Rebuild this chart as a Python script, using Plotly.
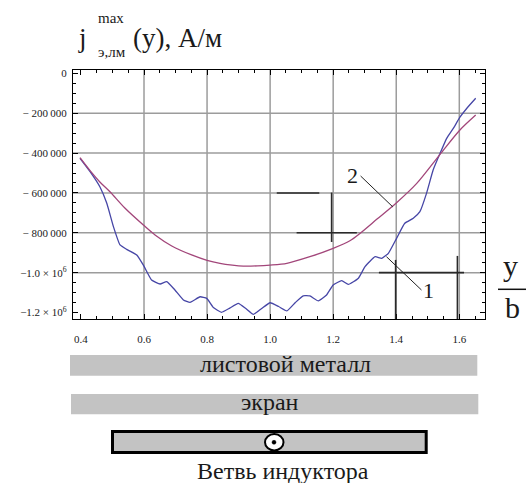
import plotly.graph_objects as go

# ---------------- data ----------------
x_curve1 = [0.397, 0.429, 0.460, 0.482, 0.503, 0.524, 0.545, 0.577, 0.598, 0.624,
            0.651, 0.672, 0.698, 0.725, 0.746, 0.778, 0.799, 0.820, 0.846, 0.872,
            0.899, 0.923, 0.947, 0.973, 1.000, 1.027, 1.053, 1.080, 1.105, 1.126,
            1.153, 1.179, 1.200, 1.227, 1.248, 1.280, 1.301, 1.333, 1.354, 1.375,
            1.401, 1.427, 1.454, 1.475, 1.496, 1.517, 1.539, 1.560, 1.581, 1.602,
            1.624, 1.652]
y_curve1 = [-426000, -493000, -569000, -652000, -769000, -861000, -883000, -911000, -962000, -1037000,
            -1057000, -1045000, -1087000, -1137000, -1149000, -1121000, -1129000, -1175000, -1199000, -1178000,
            -1154000, -1180000, -1209000, -1180000, -1151000, -1170000, -1192000, -1150000, -1116000, -1117000,
            -1142000, -1112000, -1062000, -1040000, -1059000, -1028000, -970000, -920000, -928000, -903000,
            -828000, -752000, -727000, -694000, -602000, -485000, -401000, -326000, -276000, -220000,
            -175000, -125000]

x_curve2 = [0.397, 0.429, 0.460, 0.492, 0.540, 0.598, 0.635, 0.688, 0.751, 0.800,
            0.841, 0.880, 0.915, 0.960, 1.000, 1.053, 1.126, 1.200, 1.253, 1.285,
            1.340, 1.401, 1.465, 1.539, 1.602, 1.652]
y_curve2 = [-423000, -488000, -545000, -594000, -677000, -761000, -811000, -866000, -911000, -938000,
            -953000, -962000, -967000, -966000, -962000, -953000, -920000, -878000, -840000, -803000,
            -730000, -649000, -552000, -406000, -284000, -209000]

y_tick_vals = [0, -200000, -400000, -600000, -800000, -1000000, -1200000]
y_tick_text = ["0", "\u2212 200\u2009000", "\u2212 400\u2009000", "\u2212 600\u2009000",
               "\u2212 800\u2009000", "\u22121.0 \u00d7 10<sup>6</sup>", "\u22121.2 \u00d7 10<sup>6</sup>"]
x_tick_vals = [0.4, 0.6, 0.8, 1.0, 1.2, 1.4, 1.6]
x_tick_text = ["0.4", "0.6", "0.8", "1.0", "1.2", "1.4", "1.6"]
grid_x = [0.6, 0.8, 1.0, 1.2, 1.4, 1.6]
grid_y = [-200000, -400000, -600000, -800000, -1000000]

curve_labels = ["1", "2"]
strip_labels = ["листовой металл", "экран", "Ветвь индуктора"]

# ---------------- layout geometry ----------------
W, H = 526, 483
L, R, T, B = 73, 41, 70, 164
PW, PH = W - L - R, H - T - B
X_RANGE = [0.3748, 1.6815]
Y_RANGE = [-1232600, 17000]

def px(xp):
    return (xp - L) / PW

def py(yp):
    return (H - B - yp) / PH

SERIF = "Liberation Serif"
BLUE = "#4646a6"
PURPLE = "#a2467a"
TXT = "#1a1a1a"

fig = go.Figure()
fig.add_trace(go.Scatter(x=x_curve1, y=y_curve1, mode="lines",
                         line=dict(color=BLUE, width=1.3, shape="spline", smoothing=0.4),
                         showlegend=False, hoverinfo="skip"))
fig.add_trace(go.Scatter(x=x_curve2, y=y_curve2, mode="lines",
                         line=dict(color=PURPLE, width=1.3, shape="spline", smoothing=0.8),
                         showlegend=False, hoverinfo="skip"))

shapes = []
for gx in grid_x:
    shapes.append(dict(type="line", xref="x", yref="paper", x0=gx, x1=gx, y0=0, y1=1,
                       line=dict(color="#9c9c9c", width=1.5), layer="below"))
for gy in grid_y:
    shapes.append(dict(type="line", xref="paper", yref="y", x0=0, x1=1, y0=gy, y1=gy,
                       line=dict(color="#9c9c9c", width=1.5), layer="below"))

# dark construction crosses
crosses = [
    (1.021, -600000, 1.156, -600000),
    (1.195, -598000, 1.195, -846000),
    (1.084, -800000, 1.275, -800000),
    (1.398, -936000, 1.398, -1232600),
    (1.345, -1000000, 1.615, -1000000),
    (1.594, -916000, 1.594, -1232600),
]
for x0, y0, x1, y1 in crosses:
    shapes.append(dict(type="line", xref="x", yref="y", x0=x0, y0=y0, x1=x1, y1=y1,
                       line=dict(color="#2a2a2a", width=1.6), layer="above"))

# leader lines for curve labels
shapes.append(dict(type="line", xref="x", yref="y", x0=1.287, y0=-515000, x1=1.389, y1=-670000,
                   line=dict(color="#222", width=1)))
shapes.append(dict(type="line", xref="x", yref="y", x0=1.369, y0=-920000, x1=1.480, y1=-1087000,
                   line=dict(color="#222", width=1)))

# fraction bar y/b
shapes.append(dict(type="line", xref="paper", yref="paper", x0=px(498), x1=px(526),
                   y0=py(289.3), y1=py(289.3), line=dict(color="#111", width=1.5)))

# strips below
shapes.append(dict(type="rect", xref="paper", yref="paper", x0=px(70), x1=px(477.3),
                   y0=py(375.7), y1=py(355), fillcolor="#c3c3c3", line=dict(width=0)))
shapes.append(dict(type="rect", xref="paper", yref="paper", x0=px(71), x1=px(478.3),
                   y0=py(414.3), y1=py(394), fillcolor="#c3c3c3", line=dict(width=0)))
shapes.append(dict(type="rect", xref="paper", yref="paper", x0=px(112.5), x1=px(426.2),
                   y0=py(452.5), y1=py(431.5), fillcolor="#c3c3c3",
                   line=dict(color="#000", width=3)))
shapes.append(dict(type="circle", xref="paper", yref="paper", x0=px(265), x1=px(283.5),
                   y0=py(450.5), y1=py(434), fillcolor="#ffffff",
                   line=dict(color="#000", width=2)))
shapes.append(dict(type="circle", xref="paper", yref="paper", x0=px(272), x1=px(276),
                   y0=py(444.3), y1=py(440.3), fillcolor="#000",
                   line=dict(color="#000", width=0.5)))

ann = []
def text(s, xp, yp, size, xanchor="center", yanchor="middle"):
    ann.append(dict(text=s, xref="paper", yref="paper", x=px(xp), y=py(yp),
                    xanchor=xanchor, yanchor=yanchor, showarrow=False,
                    font=dict(family=SERIF, size=size, color=TXT)))

# title pieces
text("j", 82, 38, 27)
text("max", 111, 18, 15)
text("э,лм", 112, 52, 15)
text("(y), А/м", 131, 38, 27, xanchor="left")
# axis variable
text("y", 510, 265, 30)
text("b", 512.5, 307, 30)
# curve labels
text(curve_labels[1], 352, 175, 22)
text(curve_labels[0], 428.5, 290, 22)
# strips
text(strip_labels[0], 285.5, 364, 24)
text(strip_labels[1], 269.5, 402, 24)
text(strip_labels[2], 282.7, 471, 24)

fig.update_layout(
    width=W, height=H,
    margin=dict(l=L, r=R, t=T, b=B, pad=0),
    paper_bgcolor="white", plot_bgcolor="white",
    font=dict(family=SERIF),
    shapes=shapes, annotations=ann,
    xaxis=dict(range=X_RANGE, tickvals=x_tick_vals, ticktext=x_tick_text,
               showgrid=False, zeroline=False, showline=True, linecolor="#000", linewidth=1.3,
               mirror="ticks", ticks="inside", ticklen=5, tickcolor="#000", tickwidth=1,
               ticklabelstandoff=10,
               minor=dict(dtick=0.05, tick0=0.4, ticks="inside", ticklen=3, tickcolor="#000",
                          showgrid=False),
               tickfont=dict(family=SERIF, size=11, color=TXT)),
    yaxis=dict(range=Y_RANGE, tickvals=y_tick_vals, ticktext=y_tick_text,
               showgrid=False, zeroline=False, showline=True, linecolor="#000", linewidth=1.3,
               mirror="ticks", ticks="inside", ticklen=5, tickcolor="#000", tickwidth=1,
               ticklabelstandoff=3,
               minor=dict(dtick=50000, tick0=0, ticks="inside", ticklen=3, tickcolor="#000",
                          showgrid=False),
               tickfont=dict(family=SERIF, size=11, color=TXT)),
)

fig.write_html("out.html")
